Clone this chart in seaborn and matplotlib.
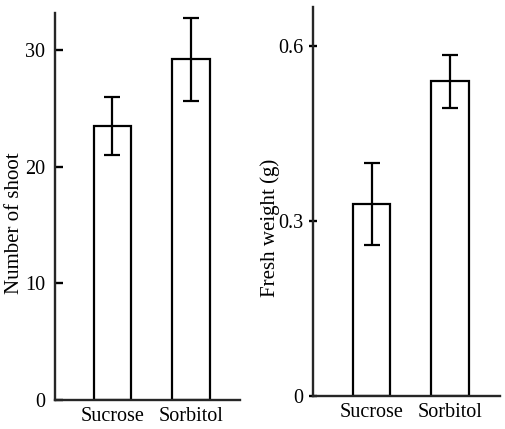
import matplotlib
matplotlib.use("Agg")
import matplotlib.pyplot as plt
import seaborn as sns

# ── Data ───────────────────────────────────────────────────────────────────
categories  = ["Sucrose", "Sorbitol"]
shoots      = [23.5, 29.2]
shoots_err  = [2.5, 3.6]
weight      = [0.33, 0.54]
weight_err  = [0.07, 0.045]

# ── Style ──────────────────────────────────────────────────────────────────
sns.set_style("ticks")
plt.rcParams["font.family"] = ["Liberation Serif", "DejaVu Serif"]
plt.rcParams.update({
    "axes.linewidth": 1.7,
    "ytick.major.width": 1.7,
    "text.color": "black",
    "axes.labelcolor": "black",
    "xtick.color": "black",
    "ytick.color": "black",
})

fig = plt.figure(figsize=(5.05, 4.29), dpi=100)
ax1 = fig.add_axes([0.109, 0.068, 0.366, 0.902])
ax2 = fig.add_axes([0.620, 0.077, 0.370, 0.907])


def panel(ax, vals, errs, ylabel, yticks, ticklabels, ylim, xlim, label_xy, tdir, tpad):
    sns.barplot(x=categories, y=vals, color="white", saturation=1,
                edgecolor="black", linewidth=1.6, width=0.48, ax=ax)
    ax.errorbar(range(len(vals)), vals, yerr=errs, fmt="none", ecolor="black",
                elinewidth=1.6, capsize=5.5, capthick=1.6)
    ax.set_xlim(*xlim)
    ax.set_ylim(*ylim)
    ax.set_yticks(yticks)
    ax.set_yticklabels(ticklabels, fontsize=14.5)
    ax.tick_params(axis="y", direction=tdir, length=6, pad=tpad)
    ax.tick_params(axis="x", length=0, labelsize=14.5, pad=5)
    ax.set_xlabel("")
    ax.set_ylabel(ylabel, fontsize=15, va="center")
    ax.yaxis.set_label_coords(*label_xy)
    sns.despine(ax=ax)
    ax.set_facecolor("white")


panel(ax1, shoots, shoots_err, "Number of shoot", [0, 10, 20, 30],
      ["0", "10", "20", "30"], (0, 33.2), (-0.73, 1.62), (-0.22, 0.457), "in", 7)
panel(ax2, weight, weight_err, "Fresh weight (g)", [0, 0.3, 0.6],
      ["0", "0.3", "0.6"], (0, 0.668), (-0.75, 1.64), (-0.23, 0.432), "inout", 4)

fig.savefig("out.png", dpi=100, facecolor="white")
